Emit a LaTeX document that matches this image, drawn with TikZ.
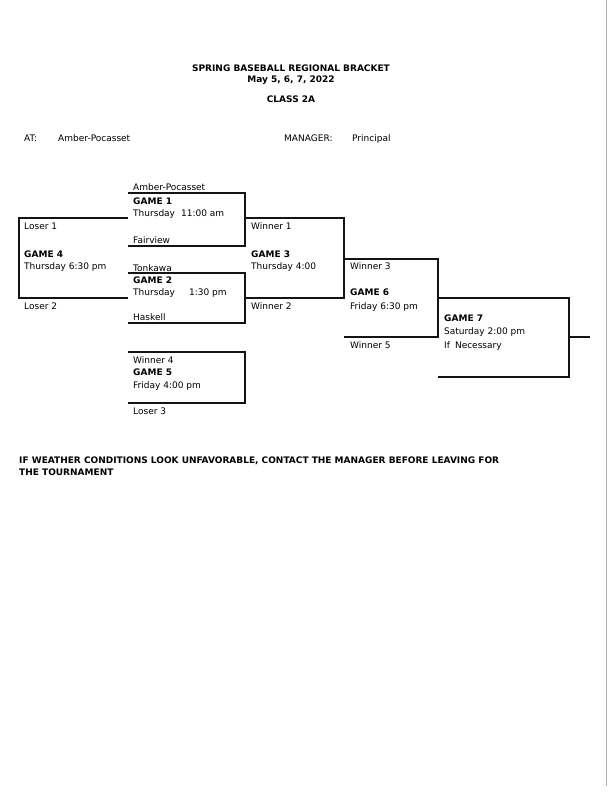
\documentclass[tikz,border=0pt]{standalone}
\usepackage{fontspec}
\setmainfont{DejaVu Sans}
\usepackage{tikz}
\usetikzlibrary{positioning}
\definecolor{bkline}{RGB}{20,20,20}
\definecolor{scanline}{RGB}{175,175,175}
\tikzstyle{bracket} = [line width=1.1pt, color=bkline]
\tikzstyle{slot} = [anchor=base west, inner sep=0pt, font=\fontsize{9}{11}\selectfont]
\tikzstyle{gamename} = [slot, font=\fontsize{9}{11}\selectfont\bfseries]
\tikzstyle{heading} = [anchor=base, inner sep=0pt, font=\fontsize{9}{11}\selectfont\bfseries]

\begin{document}
\begin{tikzpicture}[x=1pt, y=-1pt]
\useasboundingbox (0,0) rectangle (612,792);
% Header
\node (title) [heading] at (291,71) {SPRING BASEBALL REGIONAL BRACKET};
\node (dates) [heading] at (291,82) {May 5, 6, 7, 2022};
\node (class) [heading] at (291,102) {CLASS 2A};
\node (atlbl) [slot] at (24,141) {AT:};
\node (site) [slot] at (58,141) {Amber-Pocasset};
\node (mgrlbl) [slot] at (284,141) {MANAGER:};
\node (mgr) [slot] at (352,141) {Principal};

% Bracket corners
\coordinate (g1tl) at (128,193);
\coordinate (g1br) at (245,246);
\coordinate (g1bl) at (128,246);
\coordinate (g2tl) at (128,273);
\coordinate (g2br) at (245,323);
\coordinate (g2bl) at (128,323);
\coordinate (g4tr) at (128,218);
\coordinate (g4bl) at (19,298);
\coordinate (g4br) at (128,298);
\coordinate (g3tl) at (245,218);
\coordinate (g3br) at (344,298);
\coordinate (g3bl) at (245,298);
\coordinate (g5tl) at (128,352);
\coordinate (g5br) at (245,403);
\coordinate (g5bl) at (128,403);
\coordinate (g6tl) at (344,259);
\coordinate (g6br) at (438,337);
\coordinate (g6bl) at (344,337);
\coordinate (g7tl) at (438,298);
\coordinate (g7br) at (569,377);
\coordinate (g7bl) at (438,377);
\coordinate (g7out) at (569,337);
\coordinate (champ) at (590,337);

\draw[bracket] (g1tl) -| (g1br) -- (g1bl);
\draw[bracket] (g2tl) -| (g2br) -- (g2bl);
\draw[bracket] (g4tr) -| (g4bl) -- (g4br);
\draw[bracket] (g3tl) -| (g3br) -- (g3bl);
\draw[bracket] (g5tl) -| (g5br) -- (g5bl);
\draw[bracket] (g6tl) -| (g6br) -- (g6bl);
\draw[bracket] (g7tl) -| (g7br) -- (g7bl);
\draw[bracket] (g7out) -- (champ);

% Game 1
\node (amber) [slot] at (133,190) {Amber-Pocasset};
\node (game1) [gamename] at (133,204) {GAME 1};
\node (time1) [slot] at (133,216) {Thursday\hspace{6pt}11:00 am};
\node (fairview) [slot] at (133,243) {Fairview};
% Game 2
\node (tonkawa) [slot] at (133,271) {Tonkawa};
\node (game2) [gamename] at (133,283) {GAME 2};
\node (time2) [slot] at (133,295) {Thursday\hspace{14pt}1:30 pm};
\node (haskell) [slot] at (133,320) {Haskell};
% Game 4
\node (loser1) [slot] at (24,229) {Loser 1};
\node (game4) [gamename] at (24,257) {GAME 4};
\node (time4) [slot] at (24,269) {Thursday 6:30 pm};
\node (loser2) [slot] at (24,309) {Loser 2};
% Game 3
\node (winner1) [slot] at (251,229) {Winner 1};
\node (game3) [gamename] at (251,257) {GAME 3};
\node (time3) [slot] at (251,269) {Thursday 4:00};
\node (winner2) [slot] at (251,309) {Winner 2};
% Game 5
\node (winner4) [slot] at (133,363) {Winner 4};
\node (game5) [gamename] at (133,375) {GAME 5};
\node (time5) [slot] at (133,388) {Friday 4:00 pm};
\node (loser3) [slot] at (133,414) {Loser 3};
% Game 6
\node (winner3) [slot] at (350,269) {Winner 3};
\node (game6) [gamename] at (350,295) {GAME 6};
\node (time6) [slot] at (350,309) {Friday 6:30 pm};
\node (winner5) [slot] at (350,348) {Winner 5};
% Game 7
\node (game7) [gamename] at (444,321) {GAME 7};
\node (time7) [slot] at (444,334) {Saturday 2:00 pm};
\node (ifnec) [slot] at (444,348) {If\hspace{5pt}Necessary};

% Notice
\node (notice1) [gamename] at (19,463) {IF WEATHER CONDITIONS LOOK UNFAVORABLE, CONTACT THE MANAGER BEFORE LEAVING FOR};
\node (notice2) [gamename] at (19,475) {THE TOURNAMENT};

% scan edge
\draw[scanline, line width=0.8pt] (606,0) -- (606,786);
\end{tikzpicture}
\end{document}
